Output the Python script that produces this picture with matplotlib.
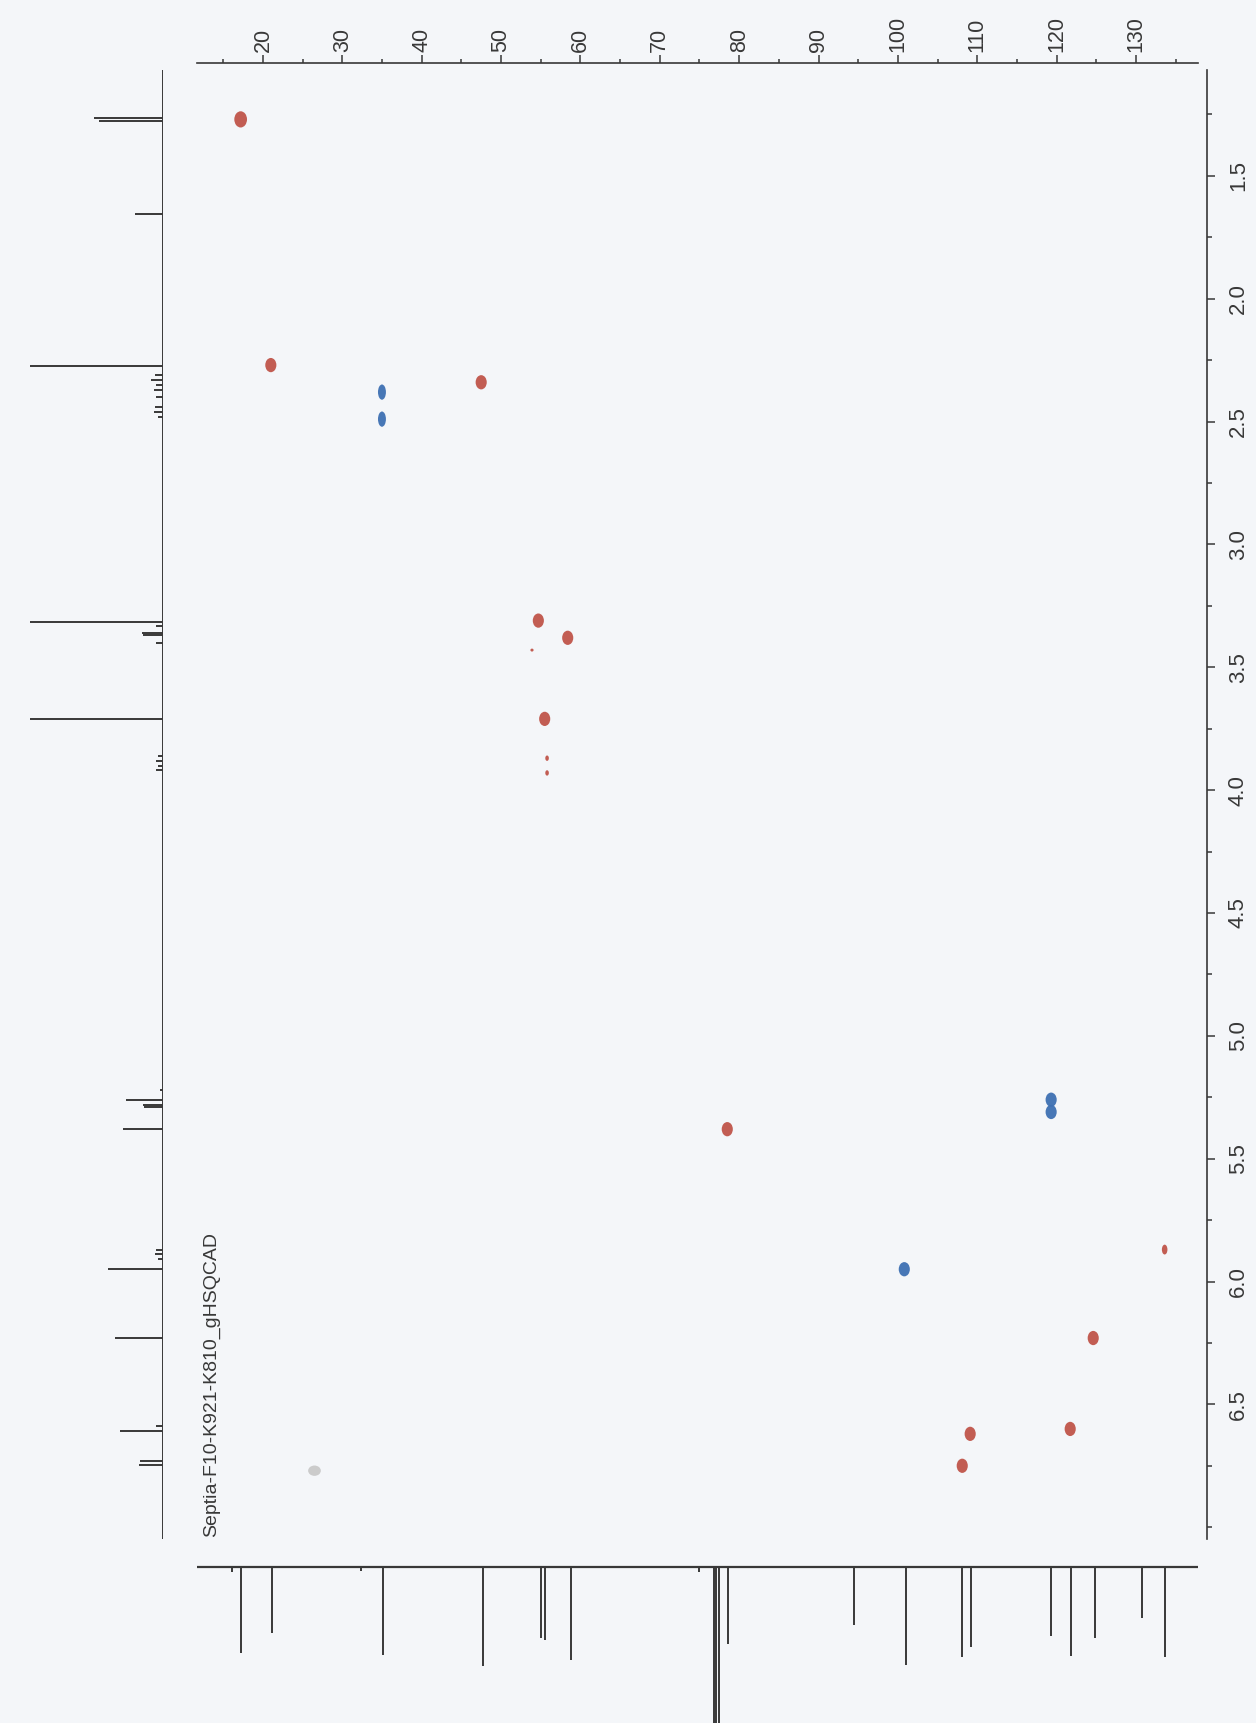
import matplotlib
matplotlib.use("Agg")
import matplotlib.pyplot as plt
from matplotlib.patches import Ellipse
from matplotlib.ticker import MultipleLocator, FormatStrFormatter
from matplotlib import font_manager

# HSQC cross peaks (ppm); phase +1 = red, -1 = blue, 0 = grey smudge
xp_c = [17.2, 21.0, 35.0, 35.0, 47.5, 54.7, 58.4, 53.9, 55.5, 55.8, 55.8,
        78.5, 119.3, 119.3, 100.8, 133.6, 124.6, 121.7, 109.1, 108.1, 26.5]
xp_h = [1.27, 2.27, 2.38, 2.49, 2.34, 3.31, 3.38, 3.43, 3.71, 3.87, 3.93,
        5.38, 5.26, 5.31, 5.95, 5.87, 6.23, 6.60, 6.62, 6.75, 6.77]
xp_phase = [1, 1, -1, -1, 1, 1, 1, 1, 1, 1, 1,
            1, -1, -1, -1, 1, 1, 1, 1, 1, 0]

# 1H trace (left, f2 projection): shift / relative height
h_ppm = [1.265, 1.278, 1.655, 2.272,
         2.31, 2.33, 2.35, 2.37, 2.40, 2.44, 2.46, 2.48,
         3.315, 3.33, 3.36, 3.37, 3.40, 3.71,
         3.86, 3.88, 3.90, 3.92, 5.22,
         5.26, 5.28, 5.29, 5.38,
         5.87, 5.89, 5.91, 5.95, 6.23,
         6.59, 6.61, 6.73, 6.745]
h_int = [0.52, 0.48, 0.21, 1.0,
         0.06, 0.09, 0.05, 0.07, 0.05, 0.06, 0.07, 0.04,
         1.0, 0.05, 0.16, 0.15, 0.05, 1.0,
         0.04, 0.05, 0.04, 0.05, 0.02,
         0.28, 0.15, 0.14, 0.30,
         0.05, 0.06, 0.04, 0.41, 0.36,
         0.05, 0.32, 0.17, 0.18]

# 13C trace (bottom, f1 projection): shift / peak depth
c_ppm = [16.1, 17.3, 21.1, 32.3, 35.1, 47.7, 55.0, 55.5, 58.8,
         75.0, 76.8, 77.1, 77.4, 78.6, 94.5, 101.0, 108.1, 109.2,
         119.3, 121.8, 124.8, 130.7, 133.7]
c_int = [5, 86, 66, 4, 88, 99, 71, 73, 93,
         5, 200, 200, 200, 77, 58, 98, 90, 80,
         69, 89, 71, 51, 90]

c_ticks = [20, 30, 40, 50, 60, 70, 80, 90, 100, 110, 120, 130]
h_ticks = [1.5, 2.0, 2.5, 3.0, 3.5, 4.0, 4.5, 5.0, 5.5, 6.0, 6.5]
title = "Septia-F10-K921-K810_gHSQCAD"

W, H = 1256, 1723
PAPER = "#f4f6f9"
INK = "#383838"
RED, BLUE, GREY = "#c0554a", "#3e70b3", "#c9c9c9"

names = {f.name for f in font_manager.fontManager.ttflist}
sans = "Liberation Sans" if "Liberation Sans" in names else "DejaVu Sans"
narrow = "Liberation Sans Narrow" if "Liberation Sans Narrow" in names else sans


def rect(x0, y0, x1, y1):
    return [x0 / W, 1 - y1 / H, (x1 - x0) / W, (y1 - y0) / H]


fig = plt.figure(figsize=(W / 100, H / 100), dpi=100, facecolor=PAPER)

ax = fig.add_axes(rect(197, 70, 1198, 1539))
ax.set_facecolor("none")
ax.set_xlim(11.7, 137.8)
ax.set_ylim(7.048, 1.069)

for c, h, p in zip(xp_c, xp_h, xp_phase):
    col = RED if p > 0 else (BLUE if p < 0 else GREY)
    w, hh = (1.4, 0.058)
    if c in (53.9,):
        w, hh = 0.4, 0.012
    elif h in (3.87, 3.93):
        w, hh = 0.45, 0.022
    elif p < 0 and c < 40:
        w, hh = 1.0, 0.062
    elif h == 1.27:
        w, hh = 1.6, 0.066
    elif c == 133.6:
        w, hh = 0.7, 0.04
    elif p == 0:
        w, hh = 1.6, 0.042
    ax.add_patch(Ellipse((c, h), w, hh, color=col, lw=0, alpha=0.95))

for s in ("left", "bottom"):
    ax.spines[s].set_visible(False)
ax.spines["top"].set_position(("outward", 5))
ax.spines["right"].set_position(("outward", 6.5))
for s in ("top", "right"):
    ax.spines[s].set_color(INK)
    ax.spines[s].set_linewidth(1.2)

ax.xaxis.tick_top()
ax.yaxis.tick_right()
ax.set_xticks(c_ticks)
ax.xaxis.set_minor_locator(MultipleLocator(5))
ax.set_yticks(h_ticks)
ax.yaxis.set_minor_locator(MultipleLocator(0.25))
ax.yaxis.set_major_formatter(FormatStrFormatter("%.1f"))
ax.tick_params(axis="x", which="major", direction="out", length=6, width=1.1,
               color=INK, pad=2, labelsize=15.5, labelcolor=INK, labelrotation=90)
ax.tick_params(axis="x", which="minor", direction="out", length=3, width=1.1, color=INK)
ax.tick_params(axis="y", which="major", direction="out", length=6, width=1.1,
               color=INK, pad=9, labelsize=16, labelcolor=INK, labelrotation=90)
ax.tick_params(axis="y", which="minor", direction="out", length=3.5, width=1.1, color=INK)
for t in ax.get_xticklabels():
    t.set_fontfamily(sans)
for t in ax.get_yticklabels():
    t.set_fontfamily(narrow)
    t.set_verticalalignment("center")

# 1H projection on the left, peaks pointing left
axh = fig.add_axes(rect(0, 70, 163, 1539), sharey=ax)
axh.set_facecolor("none")
axh.set_xlim(1.225, 0)
axh.axvline(0, color=INK, lw=1.4)
axh.hlines(h_ppm, 0, h_int, color=INK, lw=1.4)
axh.axis("off")

# 13C projection at the bottom, peaks pointing down
axc = fig.add_axes(rect(197, 1540, 1198, 1723), sharex=ax)
axc.set_facecolor("none")
axc.set_ylim(156, -27)
axc.axhline(0, color=INK, lw=1.6)
axc.vlines(c_ppm, 0, c_int, color=INK, lw=1.4)
axc.axis("off")

fig.text(212 / W, 1 - 1537 / H, title, rotation=90, ha="center", va="bottom",
         fontsize=14, color=INK, family=sans)

fig.savefig("out.png", dpi=100, facecolor=PAPER)
